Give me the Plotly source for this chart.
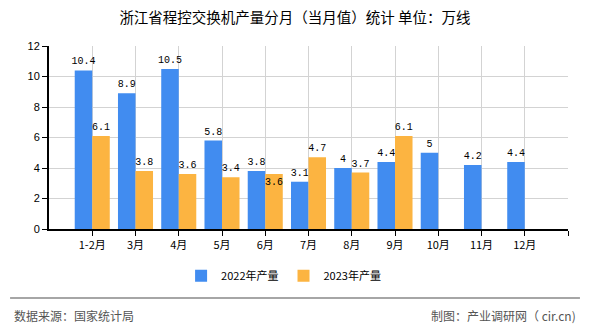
import plotly.graph_objects as go

categories = ["1-2月", "3月", "4月", "5月", "6月", "7月", "8月", "9月", "10月", "11月", "12月"]
values_2022 = [10.4, 8.9, 10.5, 5.8, 3.8, 3.1, 4, 4.4, 5, 4.2, 4.4]
values_2023 = [6.1, 3.8, 3.6, 3.4, 3.6, 4.7, 3.7, 6.1, None, None, None]
series_names = ["2022年产量", "2023年产量"]
y_ticks = [0, 2, 4, 6, 8, 10, 12]

blue = "#418cf0"
orange = "#fcb441"
label_font = dict(family="Liberation Mono, DejaVu Sans Mono, monospace", size=10, color="#000")
cjk = "Noto Sans CJK SC"

xpos = list(range(len(categories)))

def fmt(v):
    return "" if v is None else ("%g" % v)

pos2023 = ["inside" if (i == 4) else "outside" for i in range(len(values_2023))]

fig = go.Figure()
fig.add_trace(go.Bar(
    x=xpos, y=values_2022, name=series_names[0], marker=dict(color=blue, line=dict(width=0)),
    width=0.405, offset=-0.405,
    text=[fmt(v) for v in values_2022], textposition="outside", textfont=label_font,
    textangle=0, constraintext="none", cliponaxis=False,
))
fig.add_trace(go.Bar(
    x=xpos, y=values_2023, name=series_names[1], marker=dict(color=orange, line=dict(width=0)),
    width=0.405, offset=0,
    text=[fmt(v) for v in values_2023], textposition=pos2023, textfont=label_font,
    insidetextanchor="end", textangle=0, constraintext="none", cliponaxis=False,
))

fig.update_layout(
    width=590, height=330,
    margin=dict(l=49, r=22, t=46, b=101),
    paper_bgcolor="white", plot_bgcolor="white",
    title=dict(text="浙江省程控交换机产量分月（当月值）统计 单位：万线", x=0.5, xanchor="center",
               y=1 - 18 / 330, yanchor="middle", font=dict(family=cjk, size=14.5, color="#000")),
    font=dict(family=cjk, size=11, color="#000"),
    showlegend=True,
    legend=dict(orientation="h", x=0.452, xanchor="center", y=-0.255, yanchor="middle",
                font=dict(family=cjk, size=11, color="#000"), itemwidth=30, traceorder="normal"),
    xaxis=dict(range=[-1, 11], tickmode="array", tickvals=list(range(len(categories) + 1)),
               ticktext=categories + [""], showgrid=True, gridcolor="#d3d3d3", gridwidth=1,
               showline=True, linecolor="#000", linewidth=2, ticks="outside", ticklen=5,
               tickcolor="#000", tickfont=dict(family=cjk, size=11, color="#000"), zeroline=False,
               fixedrange=True),
    yaxis=dict(range=[0, 12], tickmode="array", tickvals=y_ticks, showgrid=True, gridcolor="#d3d3d3",
               showline=True, linecolor="#000", linewidth=2, ticks="outside", ticklen=5,
               tickcolor="#000", tickfont=dict(family="Liberation Sans, Arial", size=11, color="#000"),
               zeroline=False, fixedrange=True),
    shapes=[dict(type="line", xref="paper", yref="paper", x0=-0.075, x1=1.023,
                 y0=-0.377, y1=-0.377, line=dict(color="#888", width=1.5))],
    annotations=[
        dict(text="数据来源：国家统计局", xref="paper", yref="paper", x=-0.072, y=-0.475,
             xanchor="left", yanchor="middle", showarrow=False,
             font=dict(family=cjk, size=12, color="#555")),
        dict(text="制图：产业调研网（ cir.cn)", xref="paper", yref="paper", x=1.02, y=-0.475,
             xanchor="right", yanchor="middle", showarrow=False,
             font=dict(family=cjk, size=12, color="#555")),
    ],
)

fig.write_html("out.html")
